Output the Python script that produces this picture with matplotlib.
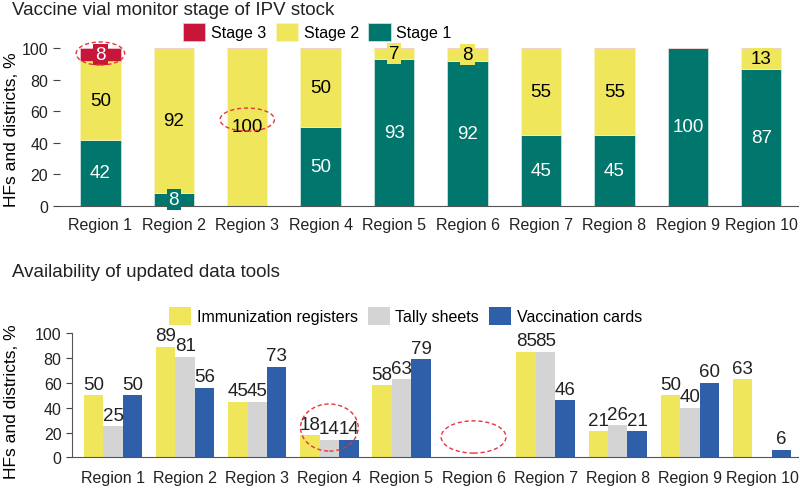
import numpy as np
import matplotlib
matplotlib.use('Agg')
import matplotlib.pyplot as plt
from matplotlib.patches import Ellipse

plt.rcParams['font.family'] = ['Liberation Sans', 'DejaVu Sans']

# data
regions = ['Region 1', 'Region 2', 'Region 3', 'Region 4', 'Region 5',
           'Region 6', 'Region 7', 'Region 8', 'Region 9', 'Region 10']
stage1 = [42, 8, 0, 50, 93, 92, 45, 45, 100, 87]
stage2 = [50, 92, 100, 50, 7, 8, 55, 55, 0, 13]
stage3 = [8, 0, 0, 0, 0, 0, 0, 0, 0, 0]

registers = [50, 89, 45, 18, 58, np.nan, 85, 21, 50, 63]
tally = [25, 81, 45, 14, 63, np.nan, 85, 26, 40, np.nan]
cards = [50, 56, 73, 14, 79, np.nan, 46, 21, 60, 6]

TEAL = '#00766C'
YELLOW = '#EFE65B'
RED = '#C8163A'
GRAY = '#D4D4D4'
BLUE = '#2F5FA9'
ELL = '#E8343A'

fs = 11.5     # ticks / legend
fsd = 13.5    # data labels
fsl = 12.5    # axis labels
fig = plt.figure(figsize=(8, 4.89), dpi=100)

# ---- top chart: VVM stage
ax1 = fig.add_axes([60/800, 1-207/489, (798-60)/800, 158/489])
x = np.arange(len(regions))
s1 = np.array(stage1)
s2 = np.array(stage2)
s3 = np.array(stage3)
b1 = ax1.bar(x, s1, 0.55, color=TEAL, edgecolor='#d8ece9', linewidth=0.5, label='Stage 1')
b2 = ax1.bar(x, s2, 0.55, bottom=s1, color=YELLOW, edgecolor='#f8f4c8', linewidth=0.5, label='Stage 2')
b3 = ax1.bar(x, s3, 0.55, bottom=s1+s2, color=RED, edgecolor='#f0c8d0', linewidth=0.5, label='Stage 3')

for vals, bottoms, col, tc in [(s1, np.zeros(10), TEAL, 'white'),
                               (s2, s1, YELLOW, 'black'),
                               (s3, s1+s2, RED, 'white')]:
    for i in range(10):
        if vals[i] > 0:
            ax1.text(x[i], bottoms[i] + vals[i]/2, str(vals[i]), ha='center', va='center',
                     fontsize=fsd, color=tc,
                     bbox=dict(boxstyle='square,pad=0.1', fc=col, ec='none'))

ax1.set_xlim(-0.55, 9.5)
ax1.set_ylim(0, 100)
ax1.set_yticks([0, 20, 40, 60, 80, 100])
ax1.set_xticks(x)
ax1.set_xticklabels(regions)
ax1.tick_params(axis='both', labelsize=fs, colors='#222222')
ax1.tick_params(axis='x', length=0, pad=8)
ax1.tick_params(axis='y', length=5, width=0.8, color='#444444')
for sp in ['top', 'right', 'left']:
    ax1.spines[sp].set_visible(False)
ax1.spines['bottom'].set_color('#555555')
ax1.set_ylabel('HFs and districts, %', fontsize=fsl)
ax1.yaxis.set_label_coords(-0.055, 0.49)
ax1.legend(handles=[b3, b2, b1], loc='center left', bbox_to_anchor=(183/800, 1-33/489),
           bbox_transform=fig.transFigure, ncol=3, frameon=False, fontsize=fs,
           borderpad=0, borderaxespad=0, handlelength=1.4, handleheight=1.3,
           handletextpad=0.35, columnspacing=0.6)

for cx, cy, w, h in [(0, 96.5, 0.66, 14.6), (2, 54.7, 0.74, 14.6)]:
    ax1.add_patch(Ellipse((cx, cy), w, h, fill=False, ec=ELL, ls=(0, (3, 2)), lw=1, clip_on=False, zorder=5))

fig.text(12/800, 1-2/489, 'Vaccine vial monitor stage of IPV stock', fontsize=13.5, va='top', ha='left', color='#222222')

# ---- bottom chart: data tools
ax2 = fig.add_axes([72/800, 1-458.3/489, (798-72)/800, 124/489])
w = 0.27
r1 = ax2.bar(x - w, registers, w, color=YELLOW, label='Immunization registers')
r2 = ax2.bar(x, tally, w, color=GRAY, label='Tally sheets')
r3 = ax2.bar(x + w, cards, w, color=BLUE, label='Vaccination cards')
for off, vals in [(-w, registers), (0, tally), (w, cards)]:
    for i in range(10):
        if not np.isnan(vals[i]):
            ax2.text(x[i] + off, vals[i] + 2, '%d' % vals[i], ha='center', va='bottom',
                     fontsize=fsd, color='#222222')

ax2.set_xlim(-0.57, 9.5)
ax2.set_ylim(0, 100)
ax2.set_yticks([0, 20, 40, 60, 80, 100])
ax2.set_xticks(x)
ax2.set_xticklabels(regions)
ax2.tick_params(axis='both', labelsize=fs, colors='#222222')
ax2.tick_params(axis='x', length=0, pad=9)
ax2.tick_params(axis='y', length=4, width=0.8, color='#444444')
for sp in ['top', 'right']:
    ax2.spines[sp].set_visible(False)
ax2.spines['bottom'].set_color('#555555')
ax2.spines['left'].set_color('#555555')
ax2.set_ylabel('HFs and districts, %', fontsize=fsl)
ax2.yaxis.set_label_coords(-0.073, 0.46)
ax2.legend(handles=[r1, r2, r3], loc='center left', bbox_to_anchor=(169/800, 1-317/489),
           bbox_transform=fig.transFigure, ncol=3, frameon=False, fontsize=fs,
           borderpad=0, borderaxespad=0, handlelength=1.4, handleheight=1.3,
           handletextpad=0.35, columnspacing=0.6)

for cx, cy, ww, hh in [(3, 24, 0.8, 38), (5, 16.4, 0.9, 26)]:
    ax2.add_patch(Ellipse((cx, cy), ww, hh, fill=False, ec=ELL, ls=(0, (3, 2)), lw=1, clip_on=False, zorder=5))

fig.text(12/800, 1-264/489, 'Availability of updated data tools', fontsize=13.5, va='top', ha='left', color='#222222')

fig.savefig('out.png', dpi=100)
